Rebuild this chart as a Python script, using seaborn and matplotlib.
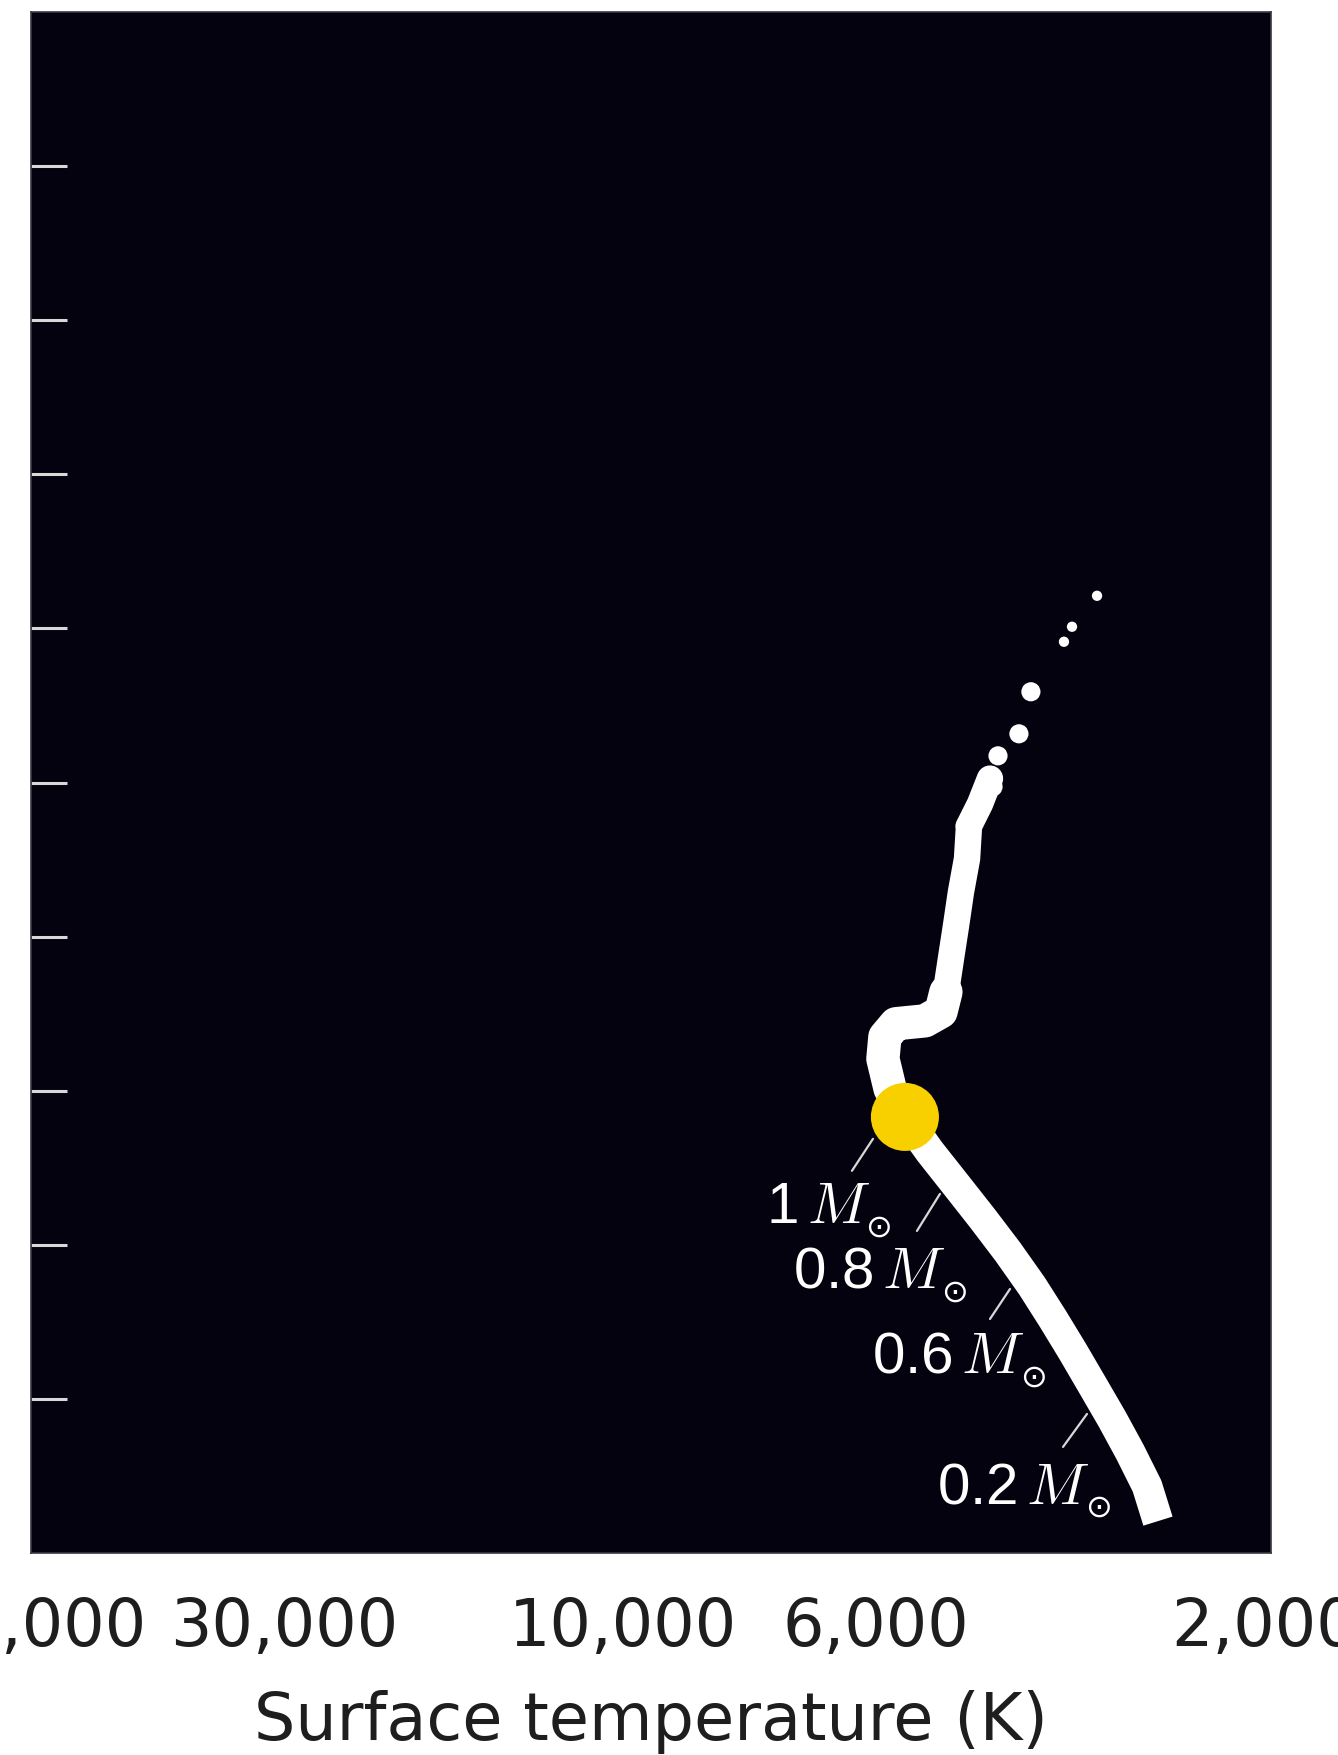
import matplotlib
matplotlib.use("Agg")
import matplotlib.pyplot as plt
import matplotlib.transforms as mtransforms
import seaborn as sns
import pandas as pd

# ------------------------------
# Data
# ------------------------------
# main sequence, lower part (cool end up to the Sun)
ms_temp = [2727, 2810, 2944, 3093, 3259, 3443, 3637, 3853, 4115, 4407, 4733, 5096, 5459]
ms_lum = [0.00161, 0.00272, 0.00452, 0.00741, 0.0121, 0.0202, 0.0330, 0.0541,
          0.0899, 0.147, 0.241, 0.401, 0.676]

# turnoff / subgiant hook
sg_temp = [5459, 5686, 5799, 5767, 5596, 5167, 4945, 4878]
sg_lum = [0.676, 1.03, 1.61, 2.24, 2.72, 2.84, 3.25, 4.38]

# red giant branch
rg_temp = [4878, 4812, 4746, 4681, 4604, 4579, 4443, 4323]
rg_lum = [4.38, 7.17, 11.7, 19.5, 32.0, 52.3, 72.7, 106.0]

# scattered giants above the branch
clump_temp = [4229, 3993, 3864, 4629, 4287]
clump_lum = [149, 207, 388, 52.3, 93.8]
speck_temp = [3529, 3452, 3223]
speck_lum = [819, 1025, 1628]

# the Sun
sun_temp = [5459]
sun_lum = [0.676]

# mass labels: text, anchor (T, L), leader line start/end (T, L)
mass_values = ["1", "0.8", "0.6", "0.2"]
label_temp = [7993, 7422, 5975, 4999]
label_lum = [0.141, 0.0533, 0.0150, 0.00214]
leader_temp = [(5959, 6313), (4959, 5282), (4092, 4323), (3313, 3538)]
leader_lum = [(0.487, 0.302), (0.214, 0.123), (0.0517, 0.0330), (0.00799, 0.00488)]

x_ticks = [50000, 30000, 10000, 6000, 2000]
x_ticklabels = ["50,000", "30,000", "10,000", "6,000", "2,000"]
y_ticks = [1e-2, 1e-1, 1e0, 1e1, 1e2, 1e3, 1e4, 1e5, 1e6]

# ------------------------------
# Style
# ------------------------------
sns.set_style("white")
plt.rcParams["font.family"] = ["DejaVu Sans"]
plt.rcParams["mathtext.fontset"] = "cm"

bg = "#04020f"
W, H = 1338, 1756

fig = plt.figure(figsize=(W / 100, H / 100), dpi=100)
ax = fig.add_axes([31 / W, 202 / H, 1240 / W, 1541 / H])
ax.set_facecolor(bg)

# ------------------------------
# Star band
# ------------------------------
ms = pd.DataFrame({"T": ms_temp, "L": ms_lum})
sg = pd.DataFrame({"T": sg_temp, "L": sg_lum})
rg = pd.DataFrame({"T": rg_temp, "L": rg_lum})

sns.lineplot(data=ms, x="T", y="L", sort=False, estimator=None, color="white",
             linewidth=22, solid_capstyle="butt", solid_joinstyle="round", ax=ax, zorder=3)
sns.lineplot(data=sg, x="T", y="L", sort=False, estimator=None, color="white",
             linewidth=24, solid_capstyle="round", solid_joinstyle="round", ax=ax, zorder=3)
sns.lineplot(data=rg, x="T", y="L", sort=False, estimator=None, color="white",
             linewidth=19, solid_capstyle="round", solid_joinstyle="round", ax=ax, zorder=3)

sns.scatterplot(x=clump_temp, y=clump_lum, color="white", s=190, marker="o",
                edgecolor="none", ax=ax, zorder=3)
sns.scatterplot(x=speck_temp, y=speck_lum, color="white", s=55, marker="o",
                edgecolor="none", ax=ax, zorder=3)

# Sun
sns.scatterplot(x=sun_temp, y=sun_lum, color="#f8d000", s=2400, marker="o",
                edgecolor="none", ax=ax, zorder=4)

# leader lines
for (t0, t1), (l0, l1) in zip(leader_temp, leader_lum):
    ax.plot([t0, t1], [l0, l1], color="#d8d8d8", linewidth=1.6, zorder=2)

# ------------------------------
# Axes
# ------------------------------
ax.set_xscale("log")
ax.set_yscale("log")
ax.set_xlim(60000, 2000)
ax.set_ylim(1e-3, 1e7)
ax.minorticks_off()

ax.set_xticks(x_ticks)
ax.set_xticklabels(x_ticklabels)
ax.set_yticks(y_ticks)
ax.set_yticklabels([])

ax.tick_params(axis="x", direction="in", length=25, width=2.2, color="#d8d8d8",
               pad=30, labelsize=47, labelcolor="#1e1e1e")
ax.tick_params(axis="y", direction="in", length=26, width=2.2, color="#d8d8d8",
               left=True, right=False)
ax.xaxis.get_major_ticks()[-1].tick1line.set_visible(False)

# some labels sit left of their tick in the original
label_shift = {"50,000": -65, "10,000": -61, "6,000": 5, "2,000": -6}
for lab in ax.get_xticklabels():
    dx = label_shift.get(lab.get_text(), 0)
    if dx:
        lab.set_transform(lab.get_transform()
                          + mtransforms.ScaledTranslation(dx / 100, 0, fig.dpi_scale_trans))

ax.set_xlabel("Surface temperature (K)", fontsize=47, color="#1e1e1e", labelpad=22)
ax.set_ylabel("")

for s in ax.spines.values():
    s.set_color("#3a3a44")
    s.set_linewidth(1.2)

# mass labels: number + italic M, then a small solar symbol tucked after it
texts = []
for val, t, l in zip(mass_values, label_temp, label_lum):
    texts.append(ax.text(t, l, val + r"$\,M$", color="white", fontsize=42,
                         ha="left", va="baseline",
                         family=["Liberation Sans", "DejaVu Sans"], zorder=5))

fig.canvas.draw()
renderer = fig.canvas.get_renderer()
for txt, t, l in zip(texts, label_temp, label_lum):
    bb = txt.get_window_extent(renderer)
    base_y = ax.transData.transform((t, l))[1]
    fig.text((bb.x1 - 5) / W, (base_y - 5) / H, "\u2299", color="white",
             fontsize=23, ha="left", va="center", family="DejaVu Sans", zorder=5)

fig.savefig("out.png", dpi=100, facecolor="white")
